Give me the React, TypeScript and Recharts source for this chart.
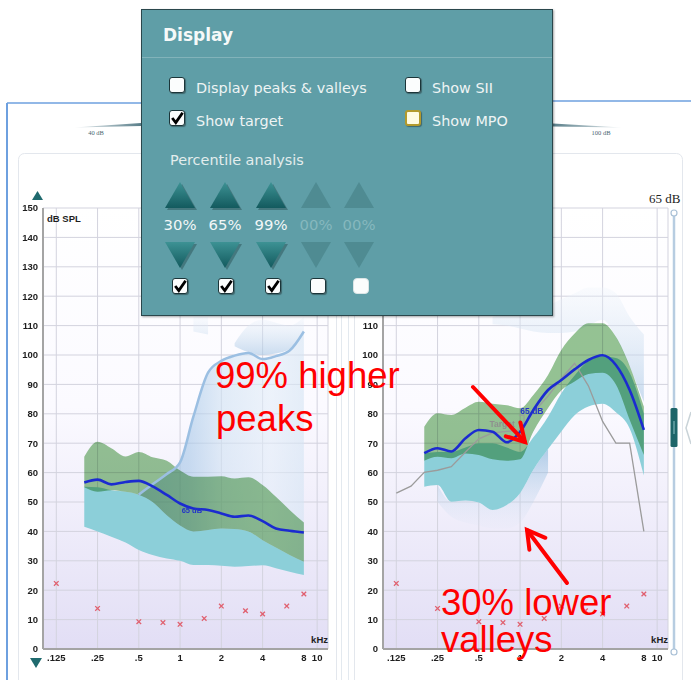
import React from 'react';
import {
  Area,
  CartesianGrid,
  ComposedChart,
  Line,
  ReferenceDot,
  ReferenceLine,
  Scatter,
  XAxis,
  YAxis,
} from 'recharts';

// third-octave grid the speech bands are read on (kHz)
const FREQS = [0.2, 0.25, 0.315, 0.4, 0.5, 0.63, 0.8, 1, 1.25, 1.6, 2, 2.5, 3.15, 4, 5, 6.3, 8];

// left chart (dB SPL)
const LEFT_SPEECH = [56.6, 57.6, 56.0, 56.8, 57.2, 55.3, 52.4, 49.5, 47.8, 47.3, 46.1, 45.0, 45.4, 43.5, 41.0, 40.2, 39.6];
const LEFT_GREEN_LO = [55.0, 53.5, 54.0, 53.5, 52.5, 50.0, 45.5, 42.0, 40.0, 40.5, 41.0, 40.8, 40.0, 37.0, 34.5, 32.0, 29.7];
const LEFT_GREEN_HI = [65.4, 70.5, 68.3, 65.5, 67.0, 65.2, 64.0, 60.7, 58.6, 58.6, 58.8, 58.0, 58.4, 55.8, 51.8, 47.3, 43.0];
const LEFT_TEAL_LO = [41.6, 40.0, 38.2, 36.2, 33.7, 32.0, 30.8, 30.0, 28.6, 28.6, 28.3, 28.0, 28.2, 28.5, 27.5, 26.3, 25.2];
const LEFT_TEAL_HI = [55.2, 55.0, 54.0, 53.5, 52.5, 50.0, 45.5, 42.0, 40.0, 40.5, 41.0, 40.8, 40.0, 37.0, 34.5, 32.0, 29.7];
const LEFT_PEAK_LO = [null, null, null, null, 45.0, 42.0, 40.0, 38.0, 36.0, 36.0, 36.0, 35.0, 35.0, 34.0, 32.0, 30.0, 28.0];
const LEFT_PEAK_HI = [null, null, null, null, 52.5, 56.0, 59.5, 63.5, 79.0, 94.0, 98.0, 99.8, 100.7, 98.6, 99.6, 101.5, 108.0];
const LEFT_CAP_LO = [null, null, null, null, null, null, null, null, 108.0, 107.0, null, 103.0, 101.0, 100.0, 100.5, 102.0, 107.0];
const LEFT_CAP_HI = [null, null, null, null, null, null, null, null, 113.0, 113.0, null, 104.0, 110.0, 112.0, 111.0, 110.0, 113.0];

// right chart (dB SPL)
const RIGHT_SPEECH = [66.6, 68.3, 67.2, 71.7, 74.5, 73.9, 70.3, 73.9, 81.3, 88.1, 91.5, 95.1, 98.3, 99.9, 96.6, 88.1, 74.5];
const RIGHT_GREEN_LO = [64.0, 65.4, 64.9, 66.5, 66.0, 64.5, 64.0, 64.5, 74.0, 82.0, 88.0, 91.0, 93.5, 94.0, 90.0, 78.0, 66.0];
const RIGHT_GREEN_HI = [75.6, 80.2, 79.6, 82.1, 84.1, 83.4, 82.9, 81.9, 86.4, 93.2, 101.7, 107.3, 110.8, 110.8, 106.2, 96.3, 82.4];
const RIGHT_TEAL_LO = [55.2, 55.8, 50.1, 50.5, 49.8, 47.3, 49.0, 53.0, 61.0, 68.0, 74.0, 79.5, 82.5, 83.4, 80.5, 75.0, 59.0];
const RIGHT_TEAL_HI = [66.5, 67.0, 67.0, 68.5, 70.0, 70.0, 68.5, 67.0, 72.0, 79.0, 87.0, 93.0, 98.0, 99.5, 99.0, 94.0, 80.0];
const RIGHT_VALLEY_LO = [null, 50.0, 45.0, 43.0, 42.0, 41.0, 41.0, 43.0, 50.0, 60.0, null, null, null, null, null, null, null];
const RIGHT_VALLEY_HI = [null, 55.8, 50.1, 50.5, 49.8, 47.3, 49.0, 53.0, 61.0, 68.0, null, null, null, null, null, null, null];
const RIGHT_CAP_LO = [null, null, null, null, null, 110.5, 110.0, 109.0, 108.0, 107.5, 107.5, 108.0, 110.0, 112.0, 106.0, 96.0, 84.0];
const RIGHT_CAP_HI = [null, null, null, null, null, 113.0, 114.0, 115.0, 116.0, 117.0, 119.0, 121.0, 123.0, 123.0, 121.0, 113.0, 107.0];

// prescription target (right chart)
const TARGET_FREQS = [0.125, 0.16, 0.2, 0.25, 0.315, 0.4, 0.5, 0.63, 0.8, 1, 1.25, 1.6, 2, 2.5, 3.15, 4, 5, 6.3, 8];
const TARGET_DB = [53.0, 55.4, 60.1, 60.8, 62.0, 67.0, 71.5, 73.5, 74.0, 74.5, 80.5, 86.0, 92.0, 97.2, 89.5, 77.4, 70.0, 70.0, 40.0];

// hearing thresholds (both charts)
const THRESH_FREQS = [0.125, 0.25, 0.5, 0.75, 1, 1.5, 2, 3, 4, 6, 8];
const THRESH_DB = [22.3, 13.8, 9.3, 9.0, 8.4, 10.4, 14.6, 13.0, 11.9, 14.6, 18.7];

const X_TICKS = [0.125, 0.25, 0.5, 1, 2, 4, 8, 10];
const Y_TICKS = [0, 10, 20, 30, 40, 50, 60, 70, 80, 90, 100, 110, 120, 130, 140, 150];

const PERCENTILES = ['30%', '65%', '99%', '00%', '00%'];
const PERCENTILE_ON = [true, true, true, false, false];

const AXIS_FONT = '"Liberation Sans", Arial, sans-serif';
const PANEL_FONT = '"DejaVu Sans", Verdana, sans-serif';

const pair = (lo: number | null, hi: number | null) => (lo == null || hi == null ? null : [lo, hi]);
const fmtFreq = (v: number) => (v < 1 ? String(v).slice(1) : String(v));
const peakTop = (d: any) => (d.peak ? d.peak[1] : null);

const THRESH = THRESH_FREQS.map((f, i) => ({ f, db: THRESH_DB[i] }));
const TARGET = TARGET_FREQS.map((f, i) => ({ f, db: TARGET_DB[i] }));

const XMark = (props: any) => {
  const { cx, cy } = props;
  if (cx == null || cy == null) return null;
  return (
    <g stroke="#e0606f" strokeWidth={1.3}>
      <line x1={cx - 2.3} y1={cy - 2.3} x2={cx + 2.3} y2={cy + 2.3} />
      <line x1={cx - 2.3} y1={cy + 2.3} x2={cx + 2.3} y2={cy - 2.3} />
    </g>
  );
};

const tagShape = (text: string, color: string, size: number) => (p: any) => (
  <text x={p.cx} y={p.cy} dy="0.35em" textAnchor="middle" fontSize={size} fontWeight={700} fill={color} fontFamily={AXIS_FONT}>
    {text}
  </text>
);

type Tag = { f: number; db: number; text: string; color: string; size: number };

function SpeechMap({ prefix, rows, target, tags, leader }: { prefix: string; rows: any[]; target?: any[]; tags: Tag[]; leader?: boolean }) {
  const tick = { fontSize: 9.5, fontWeight: 700, fill: '#1e1e1e', fontFamily: AXIS_FONT };
  return (
    <ComposedChart width={340} height={490} data={rows} margin={{ top: 18, right: 12, bottom: 6, left: 0 }}>
      <defs>
        <linearGradient id={`${prefix}-bg`} x1="0" y1="0" x2="0" y2="1">
          <stop offset="0" stopColor="#ffffff" />
          <stop offset="0.45" stopColor="#fbfaff" />
          <stop offset="1" stopColor="#e2def5" />
        </linearGradient>
        <linearGradient id={`${prefix}-peak`} x1="0" y1="0" x2="1" y2="0">
          <stop offset="0" stopColor="#8db6de" />
          <stop offset="0.3" stopColor="#a6c7e7" />
          <stop offset="0.5" stopColor="#cfe1f2" />
          <stop offset="0.8" stopColor="#e3edf8" />
          <stop offset="1" stopColor="#d4e4f3" />
        </linearGradient>
        <linearGradient id={`${prefix}-cap`} x1="0" y1="0" x2="0" y2="1">
          <stop offset="0" stopColor="#eef4fb" stopOpacity={0.5} />
          <stop offset="1" stopColor="#a8c7e4" />
        </linearGradient>
        <linearGradient id={`${prefix}-valley`} x1="0" y1="0" x2="0" y2="1">
          <stop offset="0" stopColor="#7fb0d8" stopOpacity={1} />
          <stop offset="1" stopColor="#cfe0f2" stopOpacity={0.1} />
        </linearGradient>
      </defs>
      <CartesianGrid fill={`url(#${prefix}-bg)`} stroke="#d3d3de" />
      <XAxis
        dataKey="f"
        type="number"
        scale="log"
        domain={[0.1, 12]}
        allowDataOverflow
        ticks={X_TICKS}
        tickFormatter={fmtFreq}
        tick={tick}
        tickLine={false}
        tickSize={3}
        axisLine={{ stroke: '#a4a4a4', strokeWidth: 2 }}
        height={25}
      />
      <YAxis
        type="number"
        domain={[0, 150]}
        ticks={Y_TICKS}
        tick={tick}
        tickLine={false}
        tickSize={3}
        tickMargin={2}
        axisLine={{ stroke: '#a4a4a4', strokeWidth: 2 }}
        width={43}
      />
      <Area dataKey="cap" type="monotone" stroke="none" fill={`url(#${prefix}-cap)`} isAnimationActive={false} />
      <Area dataKey="peak" type="monotone" stroke="none" fill={`url(#${prefix}-peak)`} isAnimationActive={false} />
      <Line dataKey={peakTop} type="monotone" stroke="#9bbfe2" strokeWidth={2.5} dot={false} isAnimationActive={false} />
      <Area dataKey="valley" type="monotone" stroke="none" fill={`url(#${prefix}-valley)`} isAnimationActive={false} />
      <Area dataKey="teal" type="monotone" stroke="none" fill="#8ccfd9" fillOpacity={1} isAnimationActive={false} />
      <Area dataKey="green" type="monotone" className="mult" stroke="none" fill="#96c593" fillOpacity={1} isAnimationActive={false} />
      {target && (
        <Line data={target} dataKey="db" type="linear" stroke="#9b9b9b" strokeWidth={1.3} dot={false} isAnimationActive={false} />
      )}
      {leader && (
        <ReferenceLine segment={[{ x: 1.07, y: 74.5 }, { x: 1.07, y: 79.5 }]} stroke="#9b9b9b" strokeWidth={1} />
      )}
      {leader && (
        <ReferenceLine segment={[{ x: 0.98, y: 79.5 }, { x: 1.07, y: 79.5 }]} stroke="#9b9b9b" strokeWidth={1} />
      )}
      <Line dataKey="speech" type="monotone" stroke="#1b2bd0" strokeWidth={2.6} dot={false} isAnimationActive={false} />
      <Scatter data={THRESH} dataKey="db" shape={XMark} isAnimationActive={false} />
      {tags.map((t) => (
        <ReferenceDot key={t.text + t.f} x={t.f} y={t.db} r={0} shape={tagShape(t.text, t.color, t.size)} />
      ))}
    </ComposedChart>
  );
}

function Checkbox({ x, y, checked, tone = 'normal' }: { x: number; y: number; checked?: boolean; tone?: string }) {
  const border = tone === 'mpo' ? '2px solid #b39a2c' : tone === 'off' ? '1px solid #dbe5e6' : '1.5px solid #1b3539';
  return (
    <div
      style={{
        position: 'absolute',
        left: x,
        top: y,
        width: 16,
        height: 16,
        boxSizing: 'border-box',
        border,
        borderRadius: tone === 'off' ? 4 : 3,
        background: tone === 'mpo' ? '#fffbe2' : '#fbfdfd',
        boxShadow: tone === 'off' ? 'none' : '1px 1px 1px rgba(0,0,0,0.35)',
      }}
    >
      {checked && (
        <svg width={16} height={16} style={{ position: 'absolute', left: -1.5, top: -1.5 }}>
          <path d="M3.2 8 L6.8 12.6 L13.6 2.8" stroke="#000" strokeWidth={2.8} fill="none" />
        </svg>
      )}
    </div>
  );
}

function OptionText({ x, y, text }: { x: number; y: number; text: string }) {
  return (
    <div style={{ position: 'absolute', left: x, top: y, fontSize: 14.4, lineHeight: '18px', whiteSpace: 'nowrap' }}>{text}</div>
  );
}

function DisplayPanel() {
  const cols = [38, 83, 129, 174, 217];
  const boxCols = [38, 84, 131, 176, 219];
  return (
    <div
      style={{
        position: 'absolute',
        left: 141,
        top: 9,
        width: 412,
        height: 307,
        boxSizing: 'border-box',
        background: '#5f9ea7',
        border: '1px solid #2a474c',
        boxShadow: '1px 1px 2px rgba(0,0,0,0.35)',
        fontFamily: PANEL_FONT,
        color: '#eef4f4',
        zIndex: 3,
      }}
    >
      <div style={{ position: 'absolute', left: 21, top: 15, fontSize: 17, lineHeight: '20px', fontWeight: 700, color: '#f6f9f9' }}>Display</div>
      <div style={{ position: 'absolute', left: 0, right: 0, top: 47, height: 1, background: 'rgba(255,255,255,0.22)' }} />
      <Checkbox x={27} y={67} />
      <OptionText x={54} y={69} text="Display peaks & valleys" />
      <Checkbox x={263} y={67} />
      <OptionText x={290} y={69} text="Show SII" />
      <Checkbox x={27} y={100} checked />
      <OptionText x={54} y={102} text="Show target" />
      <Checkbox x={263} y={100} tone="mpo" />
      <OptionText x={290} y={102} text="Show MPO" />
      <div style={{ position: 'absolute', left: 28, top: 141, fontSize: 14.4, lineHeight: '18px', color: '#e3eded' }}>Percentile analysis</div>
      <svg width={410} height={305} style={{ position: 'absolute', left: 0, top: 0 }}>
        <defs>
          <linearGradient id="tri-on" x1="0" y1="0" x2="0" y2="1">
            <stop offset="0" stopColor="#3d9294" />
            <stop offset="1" stopColor="#135a5e" />
          </linearGradient>
        </defs>
        {cols.map((c, i) => {
          const on = PERCENTILE_ON[i];
          const fill = on ? 'url(#tri-on)' : '#4f8b92';
          return (
            <g key={i}>
              {on && <polygon points={`${c - 13},${200} ${c + 2},${174} ${c + 17},${200}`} fill="rgba(20,50,52,0.35)" />}
              <polygon points={`${c - 15},${198} ${c},${172} ${c + 15},${198}`} fill={fill} />
              {on && <polygon points={`${c - 13},${234} ${c + 17},${234} ${c + 2},${260}`} fill="rgba(20,50,52,0.35)" />}
              <polygon points={`${c - 15},${232} ${c + 15},${232} ${c},${258}`} fill={fill} />
            </g>
          );
        })}
      </svg>
      {cols.map((c, i) => (
        <div
          key={i}
          style={{
            position: 'absolute',
            left: c - 25,
            width: 50,
            top: 206,
            fontSize: 14.8,
            lineHeight: '18px',
            textAlign: 'center',
            color: PERCENTILE_ON[i] ? '#f2f7f7' : '#86b8be',
          }}
        >
          {PERCENTILES[i]}
        </div>
      ))}
      {boxCols.map((c, i) => (
        <Checkbox key={i} x={c - 8} y={268} checked={PERCENTILE_ON[i]} tone={i === 4 ? 'off' : 'normal'} />
      ))}
    </div>
  );
}

export default function App() {
  const leftRows = FREQS.map((f, i) => ({
    f,
    speech: LEFT_SPEECH[i],
    green: [LEFT_GREEN_LO[i], LEFT_GREEN_HI[i]],
    teal: [LEFT_TEAL_LO[i], LEFT_TEAL_HI[i]],
    peak: pair(LEFT_PEAK_LO[i], LEFT_PEAK_HI[i]),
    cap: pair(LEFT_CAP_LO[i], LEFT_CAP_HI[i]),
    valley: null,
  }));
  const rightRows = FREQS.map((f, i) => ({
    f,
    speech: RIGHT_SPEECH[i],
    green: [RIGHT_GREEN_LO[i], RIGHT_GREEN_HI[i]],
    teal: [RIGHT_TEAL_LO[i], RIGHT_TEAL_HI[i]],
    peak: null,
    cap: pair(RIGHT_CAP_LO[i], RIGHT_CAP_HI[i]),
    valley: pair(RIGHT_VALLEY_LO[i], RIGHT_VALLEY_HI[i]),
  }));

  const red = '#ff0000';
  const annot = { fontFamily: AXIS_FONT, fontSize: 36.5, fill: red };

  return (
    <div style={{ position: 'absolute', left: 0, top: 0, width: 691, height: 680, overflow: 'hidden', background: '#fff' }}>
      <style>{`.mult { mix-blend-mode: multiply; }`}</style>

      {/* window frames behind the charts */}
      <svg width={691} height={680} style={{ position: 'absolute', left: 0, top: 0, zIndex: 0 }}>
        <defs>
          <linearGradient id="slideL" x1="0" y1="0" x2="1" y2="0">
            <stop offset="0" stopColor="#eef2f5" />
            <stop offset="1" stopColor="#5a7f8a" />
          </linearGradient>
          <linearGradient id="slideR" x1="0" y1="0" x2="1" y2="0">
            <stop offset="0" stopColor="#5a7f8a" />
            <stop offset="1" stopColor="#eef2f5" />
          </linearGradient>
        </defs>
        <line x1={7} y1={103} x2={7} y2={680} stroke="#6ea0df" strokeWidth={2} />
        <line x1={7} y1={103} x2={141} y2={103} stroke="#6ea0df" strokeWidth={1.5} />
        <line x1={553} y1={101} x2={691} y2={101} stroke="#6ea0df" strokeWidth={1.5} />
        <line x1={341.5} y1={104} x2={341.5} y2={680} stroke="#e3e9ef" />
        <line x1={348.5} y1={104} x2={348.5} y2={680} stroke="#e3e9ef" />
        <rect x={18.5} y={153.5} width={318} height={560} rx={6} fill="none" stroke="#e3e7ed" />
        <rect x={354.5} y={153.5} width={328} height={560} rx={6} fill="none" stroke="#e3e7ed" />
        <polygon points="74,127.5 141,123 141,126" fill="url(#slideL)" />
        <polygon points="553,123.5 553,126.5 622,127.5" fill="url(#slideR)" />
        <text x={96} y={135} textAnchor="middle" fontSize={6.5} fill="#4a6670" fontFamily="Liberation Serif, serif">40 dB</text>
        <text x={601} y={135} textAnchor="middle" fontSize={6.5} fill="#4a6670" fontFamily="Liberation Serif, serif">100 dB</text>
      </svg>

      <div style={{ position: 'absolute', left: 0, top: 190, zIndex: 1 }}>
        <SpeechMap prefix="left" rows={leftRows} tags={[{ f: 1.22, db: 47, text: '65 dB', color: '#2334c8', size: 7.5 }]} />
      </div>
      <div style={{ position: 'absolute', left: 340, top: 190, zIndex: 1 }}>
        <SpeechMap
          prefix="right"
          rows={rightRows}
          target={TARGET}
          leader
          tags={[
            { f: 1.22, db: 81, text: '65 dB', color: '#2334c8', size: 8.5 },
            { f: 0.74, db: 76.6, text: 'Target', color: '#8f8f8f', size: 8.5 },
          ]}
        />
      </div>

      {/* axis captions, slider and annotations */}
      <svg width={691} height={680} style={{ position: 'absolute', left: 0, top: 0, zIndex: 2 }}>
        <text x={47} y={222} fontSize={9.5} fontWeight={700} fill="#1e1e1e" fontFamily={AXIS_FONT}>dB SPL</text>
        <text x={328} y={643} textAnchor="end" fontSize={9.5} fontWeight={700} fill="#1e1e1e" fontFamily={AXIS_FONT}>kHz</text>
        <text x={668} y={643} textAnchor="end" fontSize={9.5} fontWeight={700} fill="#1e1e1e" fontFamily={AXIS_FONT}>kHz</text>
        <polygon points="32,200 37.5,191 43,200" fill="#1f6a6e" />
        <polygon points="30,658 42,658 36,668" fill="#1f6a6e" />

        <text x={649} y={203} fontSize={13} fill="#222" fontFamily="Liberation Serif, serif">65 dB</text>
        <line x1={674} y1={213} x2={674} y2={652} stroke="#b7cde1" strokeWidth={2.5} />
        <circle cx={674} cy={213} r={3} fill="#fff" stroke="#a9c0d6" strokeWidth={1.2} />
        <circle cx={674} cy={652} r={3} fill="#fff" stroke="#a9c0d6" strokeWidth={1.2} />
        <rect x={670.5} y={408} width={7} height={39} rx={1.5} fill="#1d6569" />
        <line x1={674} y1={421} x2={674} y2={434} stroke="#8fc3c6" strokeWidth={1} />
        <polyline points="691,412 686,428 691,444" fill="none" stroke="#c9d3d8" strokeWidth={1.5} />

        <text x={215} y={388} {...annot}>99% higher</text>
        <text x={216} y={431} {...annot}>peaks</text>
        <text x={441} y={615} {...annot}>30% lower</text>
        <text x={441} y={652} {...annot}>valleys</text>
        <g stroke={red} strokeWidth={4} strokeLinecap="round" fill="none">
          <line x1={473} y1={387} x2={525} y2={442} />
          <polyline points="520.4,422.5 525,442 505.8,436.3" />
          <line x1={567} y1={583} x2={527} y2={530} />
          <polyline points="529.4,549.8 527,530 545.4,537.8" />
        </g>
      </svg>

      <DisplayPanel />
    </div>
  );
}
